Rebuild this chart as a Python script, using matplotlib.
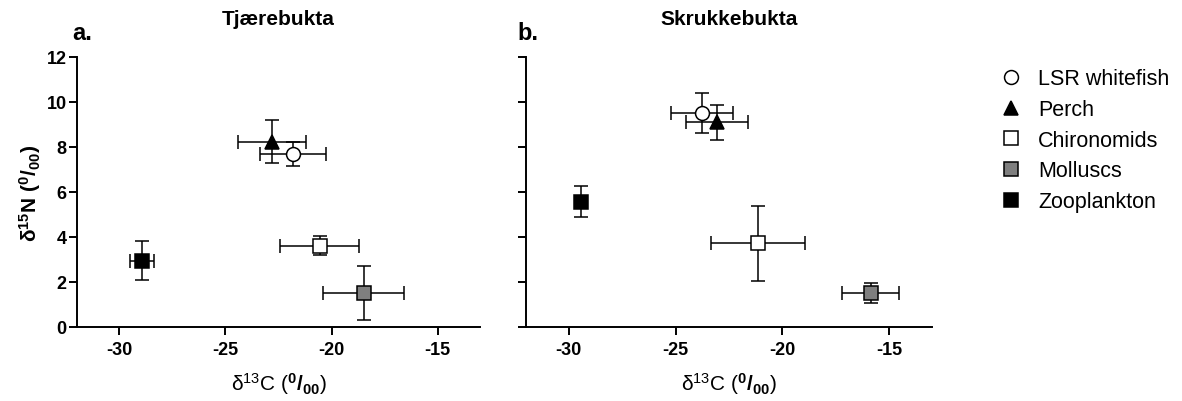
import numpy as np
import matplotlib
matplotlib.use('Agg')
import matplotlib.pyplot as plt
from matplotlib.lines import Line2D

plt.rcParams['font.family'] = ['Liberation Sans', 'DejaVu Sans']
plt.rcParams['mathtext.fontset'] = 'custom'
plt.rcParams['mathtext.rm'] = 'Liberation Sans'
plt.rcParams['mathtext.bf'] = 'Liberation Sans:bold'
plt.rcParams['mathtext.it'] = 'Liberation Sans:italic'
plt.rcParams['axes.unicode_minus'] = False

# groups (same order in both panels)
groups  = ['LSR whitefish', 'Perch', 'Chironomids', 'Molluscs', 'Zooplankton']
markers = ['o', '^', 's', 's', 's']
faces   = ['white', 'black', 'white', '#7f7f7f', 'black']

# Tjærebukta
a_c    = [-21.82, -22.80, -20.56, -18.49, -28.93]
a_cerr = [1.54, 1.60, 1.85, 1.90, 0.57]
a_n    = [7.69, 8.24, 3.61, 1.51, 2.95]
a_nerr = [0.53, 0.95, 0.43, 1.20, 0.86]

# Skrukkebukta
b_c    = [-23.76, -23.07, -21.13, -15.87, -29.44]
b_cerr = [1.45, 1.46, 2.21, 1.33, 0.20]
b_n    = [9.50, 9.10, 3.73, 1.51, 5.57]
b_nerr = [0.89, 0.78, 1.67, 0.44, 0.68]

W, H = 1182., 402.
fig = plt.figure(figsize=(W/100, H/100), dpi=100)
axA = fig.add_axes([77/W, 1-328/H, (480-77)/W, 270/H])
axB = fig.add_axes([526/W, 1-328/H, (932-526)/W, 270/H])

def draw(ax, c, cerr, n, nerr, title):
	for i in range(len(groups)):
		ax.errorbar(c[i], n[i], xerr=cerr[i], yerr=nerr[i], fmt=markers[i], mfc=faces[i], mec='black',
					mew=1.1, ms=10, ecolor='black', elinewidth=1.1, capsize=4.8, capthick=1.1, zorder=3+i)
	ax.set_xlim(-32, -13)
	ax.set_ylim(0, 12)
	ax.set_xticks([-30, -25, -20, -15])
	ax.set_yticks(range(0, 13, 2))
	for s in ['top', 'right']: ax.spines[s].set_visible(False)
	for s in ['left', 'bottom']: ax.spines[s].set_linewidth(1.4)
	ax.tick_params(width=1.4, length=6, labelsize=13)
	ax.tick_params(axis='x', pad=4)
	ax.tick_params(axis='y', pad=1.5)
	for t in ax.get_xticklabels() + ax.get_yticklabels(): t.set_fontweight('bold')
	ax.text(0.5, (328-25)/270., title, transform=ax.transAxes, ha='center', va='baseline',
			fontweight='bold', fontsize=15)
	x0, y0, w, h = ax.get_position().bounds
	fig.text(x0 + w/2, 1-384/H, r'δ$^{13}$C ($\mathbf{^0/_{00}}$)', ha='center', va='center', fontsize=15)

draw(axA, a_c, a_cerr, a_n, a_nerr, 'Tjærebukta')
draw(axB, b_c, b_cerr, b_n, b_nerr, 'Skrukkebukta')
axB.set_yticklabels([])

fig.text(30/W, 1-193/H, r'$\mathbf{δ^{15}N\ (^0/_{00})}$', rotation=90, ha='center', va='center', fontsize=15)
fig.text(72/W, 1-40/H, 'a.', fontweight='bold', fontsize=17, va='baseline')
fig.text(517/W, 1-40/H, 'b.', fontweight='bold', fontsize=17, va='baseline')

handles = [Line2D([], [], ls='none', marker=markers[i], mfc=faces[i], mec='black', mew=1.1, ms=10)
		   for i in range(len(groups))]
fig.legend(handles, groups, loc='upper left', bbox_to_anchor=(979/W, 1-50/H), frameon=False,
		   fontsize=15.5, handletextpad=0.65, labelspacing=0.45, handlelength=1.2, borderpad=0.4)

fig.savefig('out.png', dpi=100)
